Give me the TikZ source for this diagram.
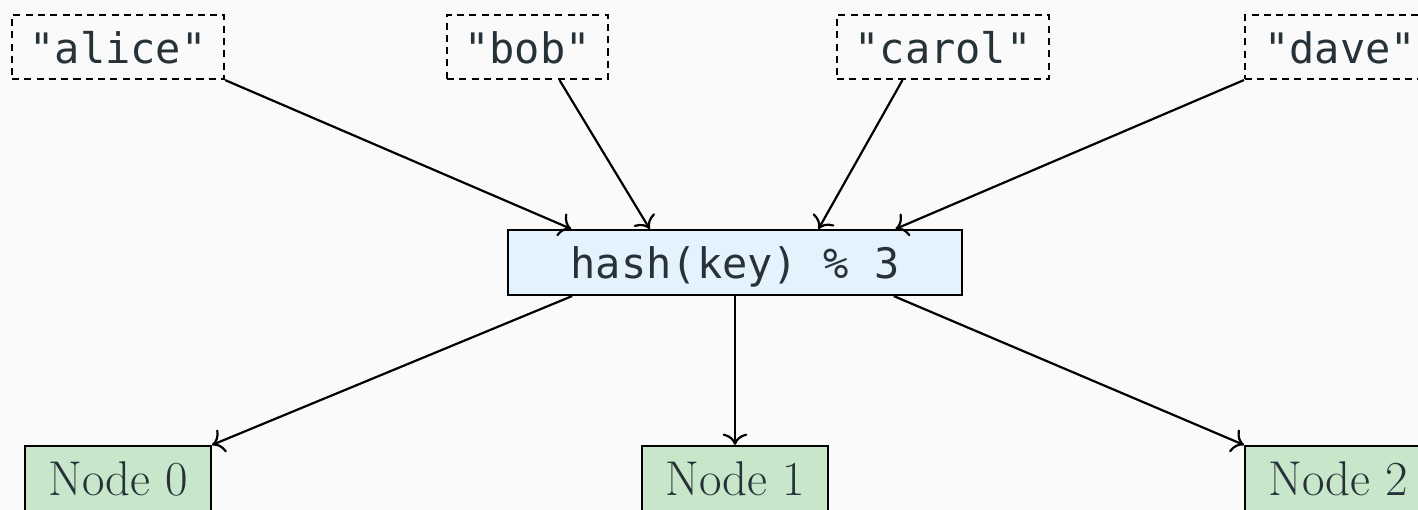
\documentclass[tikz,border=0pt]{standalone}
\usepackage{fontspec}
\setmonofont{DejaVu Sans Mono}
\usetikzlibrary{calc,arrows.meta}
\definecolor{bgc}{HTML}{FAFAFA}
\definecolor{ink}{HTML}{263238}
\definecolor{hashfill}{HTML}{E3F2FD}
\definecolor{nodefill}{HTML}{C8E6C9}
\tikzset{
  keybox/.style={draw=black, dash pattern=on 4pt off 3pt, line width=1.2pt,
    text=ink, font=\ttfamily\fontsize{23.9pt}{28pt}\selectfont,
    inner sep=0pt, minimum height=64*0.02cm, text height=18.6pt, text depth=0pt},
  hashbox/.style={draw=black, fill=hashfill, line width=1.2pt,
    text=ink, font=\ttfamily\fontsize{23.9pt}{28pt}\selectfont,
    inner sep=0pt, minimum width=454*0.02cm, minimum height=65*0.02cm,
    text height=18.7pt, text depth=0pt},
  serverbox/.style={draw=black, fill=nodefill, line width=1.2pt,
    text=ink, font=\fontsize{27.8pt}{32pt}\selectfont,
    inner sep=0pt, minimum width=186*0.02cm, minimum height=66*0.02cm,
    text height=19.3pt, text depth=0pt},
  link/.style={draw=black, line width=1.25pt,
    -{To[length=6.5pt, width=14pt]}},
}
\begin{document}
\begin{tikzpicture}[x=0.02cm, y=-0.02cm]
  \fill[bgc] (0,0) rectangle (1418,510);
  \useasboundingbox (0,0) rectangle (1418,510);
  \clip (0,0) rectangle (1418,510);

  % input keys
  \node[keybox, minimum width=212*0.02cm] (alice) at (118,47) {"alice"};
  \node[keybox, minimum width=161*0.02cm] (bob) at (527.5,47) {"bob"};
  \node[keybox, minimum width=212*0.02cm] (carol) at (943,47) {"carol"};
  \node[keybox, minimum width=190*0.02cm] (dave) at (1340,47) {"dave"};

  % hash function
  \node[hashbox] (hash) at (735,262.5) {hash(key) \% 3};

  % servers
  \node[serverbox] (n0) at (118,479) {Node 0};
  \node[serverbox] (n1) at (735,479) {Node 1};
  \node[serverbox] (n2) at (1338,479) {Node 2};

  % keys into the hash
  \draw[link] (alice.south east) -- ($(hash.north west)!0.141!(hash.north east)$);
  \draw[link] ($(bob.south west)!0.696!(bob.south east)$) -- ($(hash.north west)!0.313!(hash.north east)$);
  \draw[link] ($(carol.south west)!0.311!(carol.south east)$) -- ($(hash.north west)!0.683!(hash.north east)$);
  \draw[link] (dave.south west) -- ($(hash.north west)!0.852!(hash.north east)$);

  % hash out to servers
  \draw[link] ($(hash.south west)!0.143!(hash.south east)$) -- (n0.north east);
  \draw[link] (hash.south) -- (n1.north);
  \draw[link] ($(hash.south west)!0.848!(hash.south east)$) -- (n2.north west);
\end{tikzpicture}
\end{document}
